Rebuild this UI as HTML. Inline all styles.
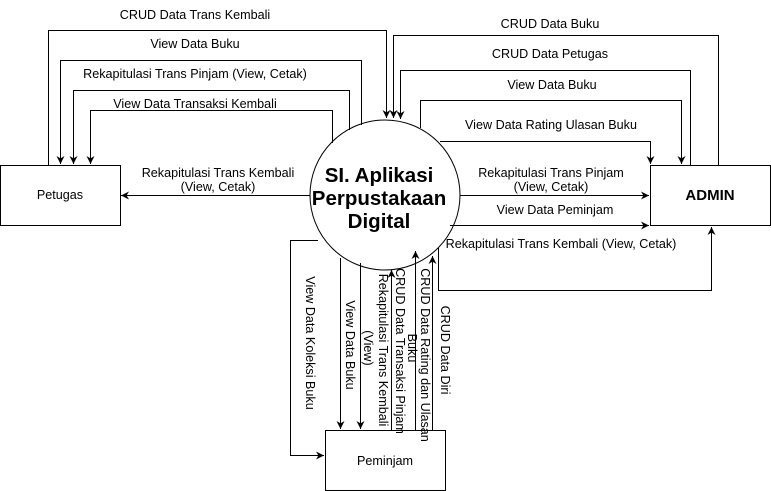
<!DOCTYPE html>
<html><head><meta charset="utf-8"><style>html,body{margin:0;padding:0;background:#fff}svg{display:block}</style></head>
<body>
<svg width="771" height="491" viewBox="0 0 771 491" xmlns="http://www.w3.org/2000/svg" font-family="Liberation Sans, Arial, sans-serif" font-size="12.6" fill="#000">
<defs>
<marker id="a" viewBox="0 0 10 10" refX="10" refY="5" markerWidth="8" markerHeight="8" orient="auto" markerUnits="userSpaceOnUse"><path d="M0,0 L10,5 L0,10 L3,5 z" fill="#000"/></marker>
</defs>
<g stroke="#000" stroke-width="1" fill="none">
<rect x="0.5" y="165.5" width="120" height="60"/>
<rect x="650.5" y="165.5" width="120" height="60"/>
<rect x="325.5" y="430.5" width="120" height="60"/>
<circle cx="385" cy="195" r="75" fill="#fff"/>
<polyline points="48.5,165 48.5,30.5 386.5,30.5 386.5,118" marker-end="url(#a)"/>
<polyline points="361.5,125 361.5,60.5 60.5,60.5 60.5,164" marker-end="url(#a)"/>
<polyline points="349.5,130 349.5,90.5 73.5,90.5 73.5,164" marker-end="url(#a)"/>
<polyline points="332.5,143 332.5,110.5 90.5,110.5 90.5,164" marker-end="url(#a)"/>
<line x1="310" y1="195.5" x2="121" y2="195.5" marker-end="url(#a)"/>
<polyline points="718.5,165 718.5,35.5 393.5,35.5 393.5,118" marker-end="url(#a)"/>
<polyline points="690.5,165 690.5,70.5 400.5,70.5 400.5,119" marker-end="url(#a)"/>
<polyline points="420.5,128 420.5,100.5 681.5,100.5 681.5,164" marker-end="url(#a)"/>
<polyline points="440,141.5 650.5,141.5 650.5,164" marker-end="url(#a)"/>
<line x1="460" y1="195.5" x2="649" y2="195.5" marker-end="url(#a)"/>
<line x1="450" y1="225.5" x2="649" y2="225.5" marker-end="url(#a)"/>
<polyline points="438.5,248 438.5,290.5 711.5,290.5 711.5,227" marker-end="url(#a)"/>
<polyline points="318,240.5 290.5,240.5 290.5,455.5 324,455.5" marker-end="url(#a)"/>
<line x1="340.5" y1="258" x2="340.5" y2="429" marker-end="url(#a)"/>
<line x1="360.5" y1="263" x2="360.5" y2="429" marker-end="url(#a)"/>
<line x1="391.5" y1="430" x2="391.5" y2="270" marker-end="url(#a)"/>
<line x1="415.5" y1="430" x2="415.5" y2="251" marker-end="url(#a)"/>
<line x1="432.5" y1="430" x2="432.5" y2="256" marker-end="url(#a)"/>
</g>
<g text-anchor="middle">
<text x="60" y="199">Petugas</text>
<text x="710" y="200" font-size="15" font-weight="bold">ADMIN</text>
<text x="385" y="465">Peminjam</text>
<text x="379" y="182" font-size="20.5" font-weight="bold">SI. Aplikasi</text>
<text x="379" y="205" font-size="20.5" font-weight="bold">Perpustakaan</text>
<text x="379" y="228" font-size="20.5" font-weight="bold">Digital</text>
<text x="195" y="19">CRUD Data Trans Kembali</text>
<text x="195" y="48">View Data Buku</text>
<text x="195" y="78">Rekapitulasi Trans Pinjam (View, Cetak)</text>
<text x="195" y="108">View Data Transaksi Kembali</text>
<text x="218" y="177">Rekapitulasi Trans Kembali</text>
<text x="218" y="191">(View, Cetak)</text>
<text x="550" y="28">CRUD Data Buku</text>
<text x="550" y="58">CRUD Data Petugas</text>
<text x="552" y="89">View Data Buku</text>
<text x="551" y="129">View Data Rating Ulasan Buku</text>
<text x="551" y="177">Rekapitulasi Trans Pinjam</text>
<text x="551" y="191">(View, Cetak)</text>
<text x="555" y="214">View Data Peminjam</text>
<text x="561" y="248">Rekapitulasi Trans Kembali (View, Cetak)</text>
</g>
<g text-anchor="middle">
<text transform="translate(306,343) rotate(90)">View Data Koleksi Buku</text>
<text transform="translate(346,345) rotate(90)">View Data Buku</text>
<text transform="translate(379,350) rotate(90)">Rekapitulasi Trans Kembali</text>
<text transform="translate(364,348) rotate(90)">(View)</text>
<text transform="translate(396,351) rotate(90)">CRUD Data Transaksi Pinjam</text>
<text transform="translate(421,355) rotate(90)">CRUD Data Rating dan Ulasan</text>
<text transform="translate(408,348) rotate(90)">Buku</text>
<text transform="translate(441,350) rotate(90)">CRUD Data Diri</text>
</g>
</svg>
</body></html>
